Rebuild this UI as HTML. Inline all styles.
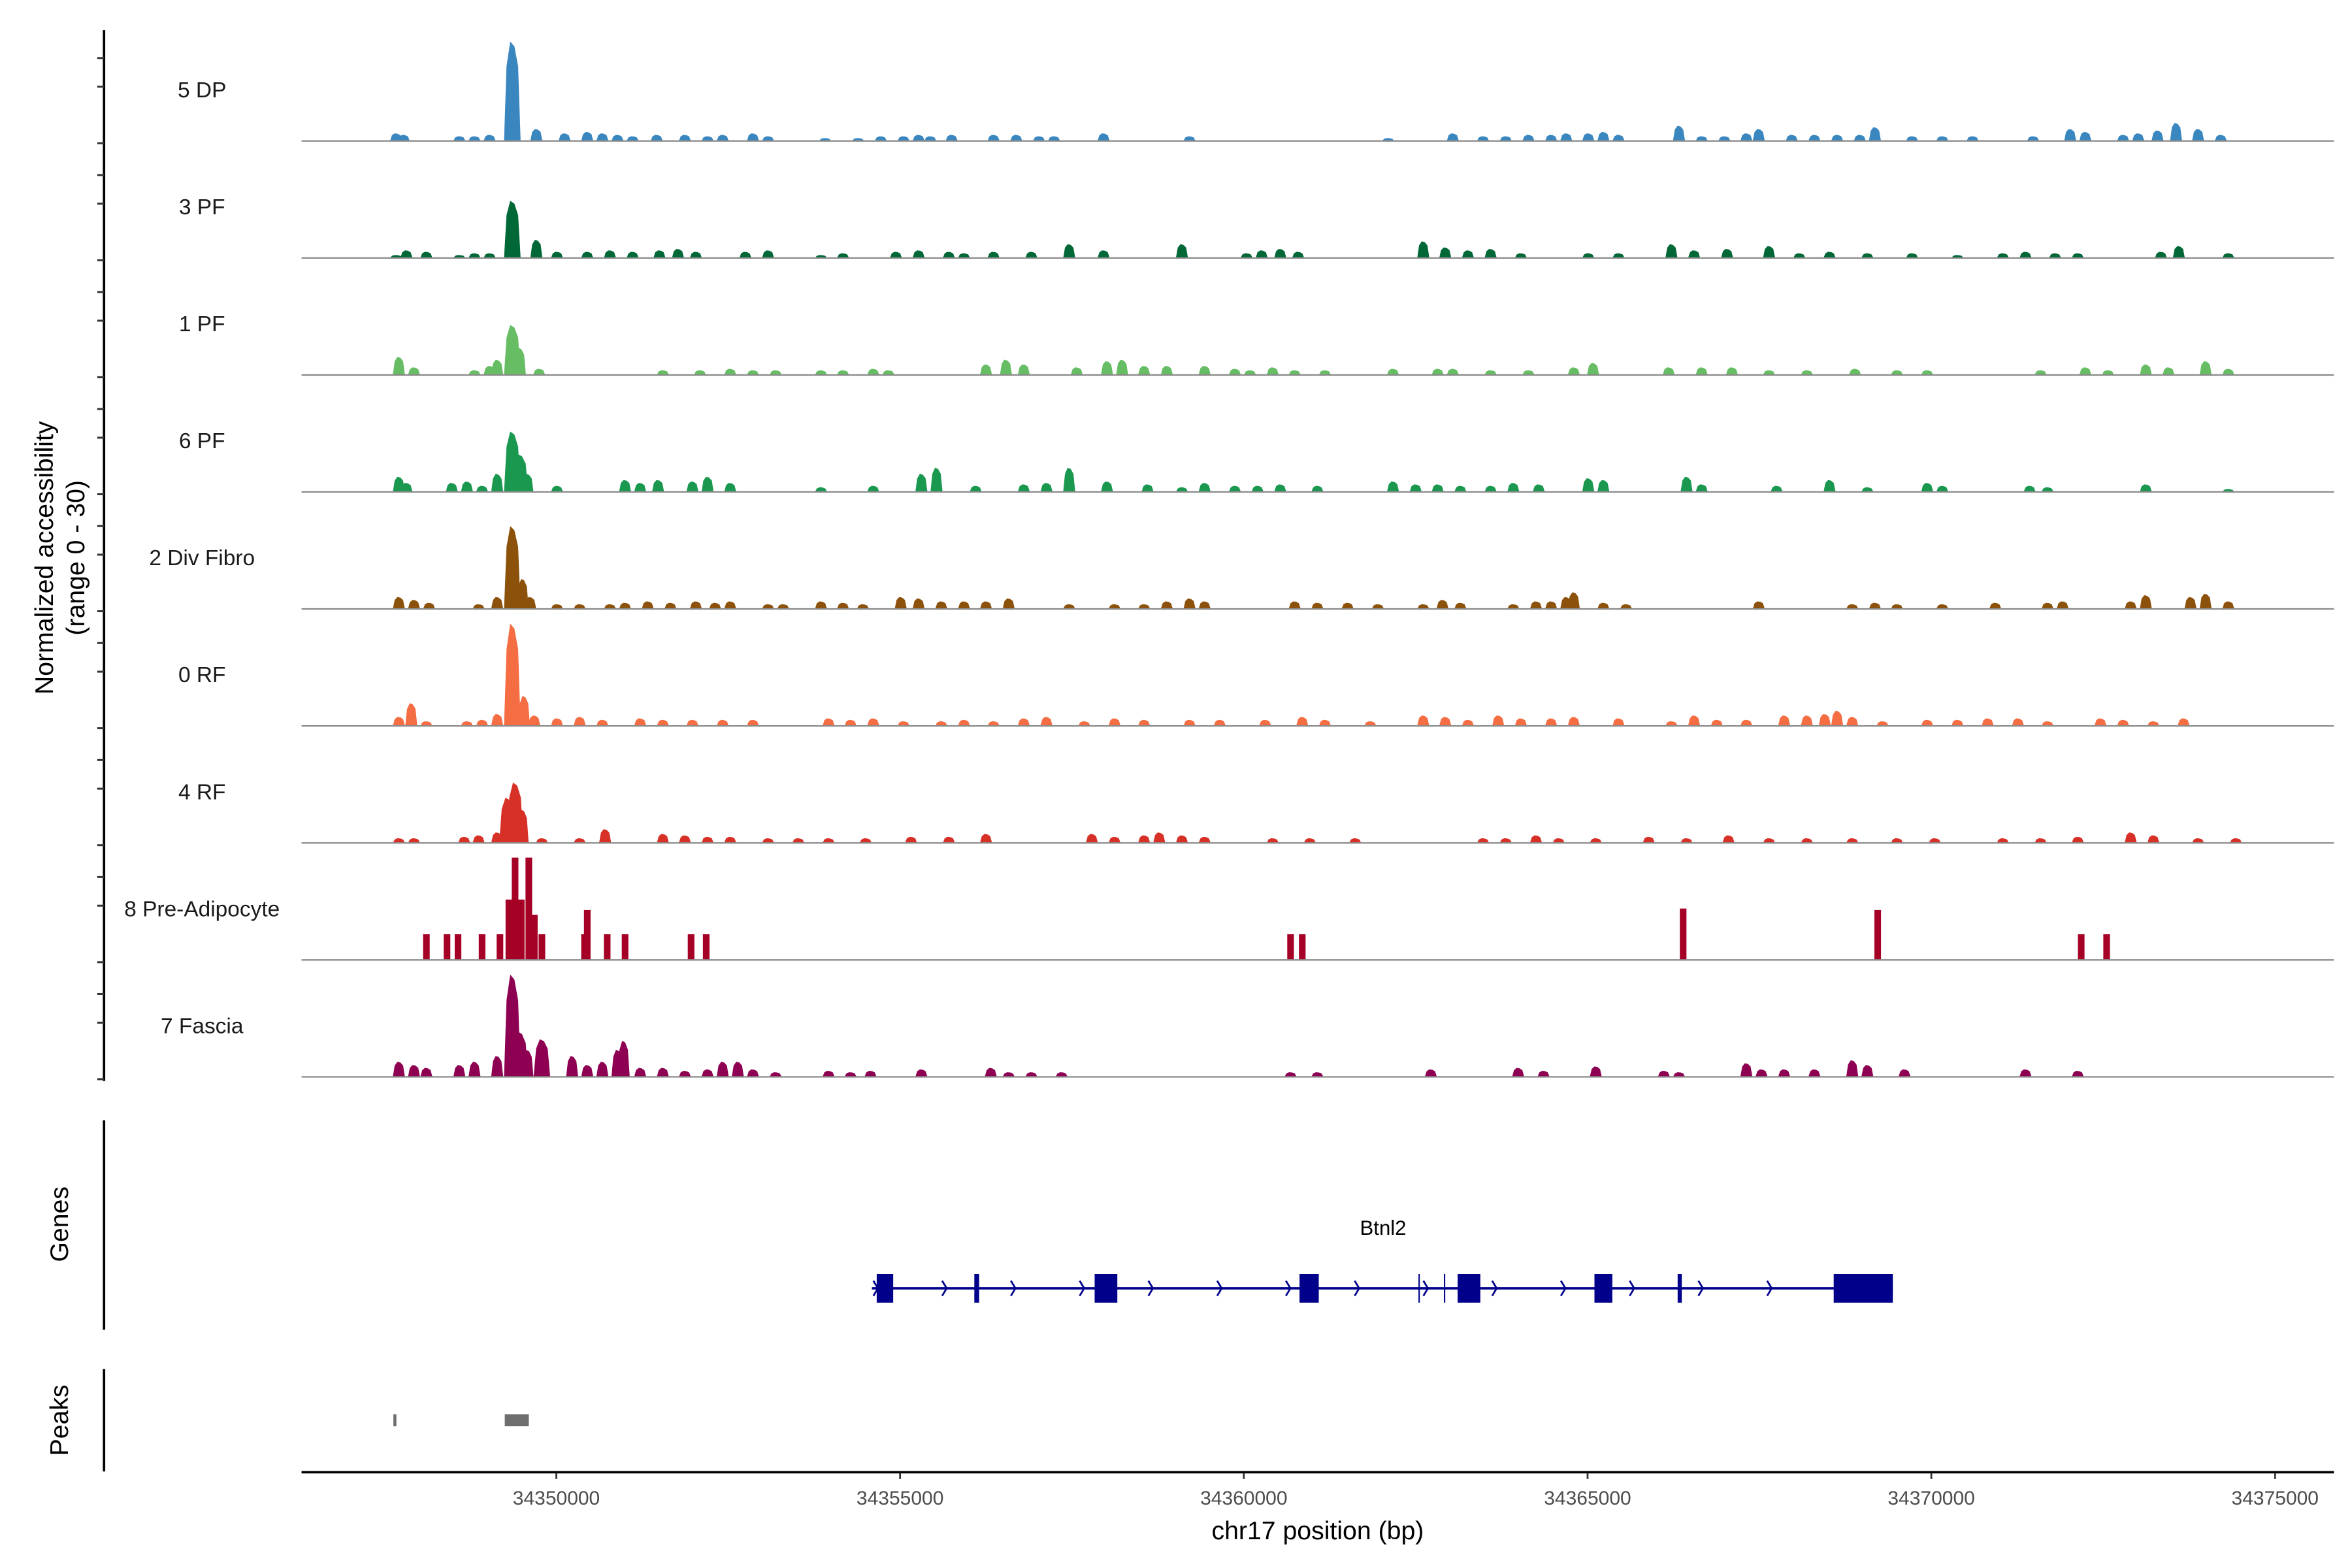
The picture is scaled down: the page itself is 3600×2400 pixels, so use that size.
<!DOCTYPE html>
<html><head><meta charset="utf-8"><style>
html,body{margin:0;padding:0;background:#fff;}
svg{display:block;font-family:"Liberation Sans",sans-serif;}
</style></head><body>
<svg id="chart" width="3600" height="2400" viewBox="0 0 1560 1040" xmlns="http://www.w3.org/2000/svg">
<rect x="0" y="0" width="1560" height="1040" fill="#fff"/>
<g id="tracks"></g>
<g id="genes"></g>
<g id="peaks"></g>
<g id="axes"></g>
<text transform="translate(35,370) rotate(-90)" text-anchor="middle" font-size="17">Normalized accessibility</text>
<text transform="translate(56,370) rotate(-90)" text-anchor="middle" font-size="17">(range 0 - 30)</text>
<text transform="translate(45,812) rotate(-90)" text-anchor="middle" font-size="17">Genes</text>
<text transform="translate(45,942) rotate(-90)" text-anchor="middle" font-size="17">Peaks</text>
<text x="874" y="1021" text-anchor="middle" font-size="17">chr17 position (bp)</text>
</svg>
<script>
// positions in kb offset from 34340000 bp; values normalized accessibility (0-30)
const trackNames = ["5 DP","3 PF","1 PF","6 PF","2 Div Fibro","0 RF","4 RF","8 Pre-Adipocyte","7 Fascia"];
const trackColors = ["#3a87c0","#006837","#66bd63","#1a9850","#8c510a","#f46d43","#d73027","#a50026","#8e0152"];
const pos5DP = [7.67,7.78,8.59,8.81,9.03,9.36,9.71,10.12,10.45,10.67,10.89,11.11,11.46,11.87,12.20,12.42,12.86,13.08,13.91,14.39,14.72,15.05,15.27,15.44,15.75,16.36,16.69,17.02,17.24,17.96,19.21,22.10,23.04,23.48,23.81,24.14,24.47,24.69,25.01,25.23,25.45,26.33,26.66,26.99,27.31,27.49,27.97,28.30,28.63,28.96,29.18,29.72,30.16,30.60,31.48,32.02,32.24,32.79,33.01,33.29,33.56,33.88,34.21];
const val5DP = [2.1,1.7,1.3,1.3,1.7,27.5,3.3,2.1,2.5,2.1,1.7,1.3,1.7,1.7,1.3,1.7,2.1,1.3,0.8,0.8,1.3,1.3,1.7,1.3,1.7,1.7,1.7,1.3,1.3,2.1,1.3,0.8,2.1,1.3,1.3,1.7,1.7,2.1,2.1,2.5,1.7,4.2,1.3,1.3,2.1,3.3,1.7,1.7,1.7,1.7,3.8,1.3,1.3,1.3,1.3,3.3,2.5,1.7,2.1,2.9,5,3.3,1.7];
const pos3PF = [7.67,7.82,8.11,8.59,8.81,9.03,9.36,9.71,10.01,10.45,10.78,11.11,11.50,11.77,12.03,12.75,13.08,13.85,14.17,14.94,15.27,15.71,15.93,16.36,16.91,17.46,17.96,19.10,20.04,20.26,20.53,20.79,22.61,22.93,23.26,23.59,24.03,25.01,25.45,26.22,26.55,27.03,27.64,28.08,28.52,29.07,29.72,30.38,31.04,31.37,31.80,32.13,33.34,33.60,34.32];
const val3PF = [0.8,2.1,1.7,0.8,1.3,1.3,15.8,5,1.7,1.7,2.1,1.7,2.1,2.5,1.7,1.7,2.1,0.8,1.3,1.7,2.1,1.7,1.3,1.7,1.7,3.8,2.1,3.8,1.3,2.1,2.5,1.7,4.6,2.9,2.1,2.5,1.3,1.3,1.3,3.8,2.1,2.5,3.3,1.3,1.7,1.3,1.3,0.8,1.3,1.7,1.3,1.3,1.7,3.3,1.3];
const pos1PF = [7.71,7.93,8.81,9.03,9.14,9.36,9.47,9.75,11.55,12.09,12.53,12.86,13.19,13.85,14.17,14.61,14.83,16.25,16.54,16.80,17.57,18.01,18.23,18.55,18.88,19.43,19.87,20.09,20.42,20.74,21.18,22.17,22.82,23.04,23.59,24.14,24.80,25.08,26.18,26.66,27.10,27.64,28.19,28.89,29.50,29.94,31.59,32.24,32.57,33.12,33.45,33.99,34.32];
const val1PF = [5,2.1,1.3,2.5,4.2,13.8,7.5,1.7,1.3,1.3,1.7,1.3,1.3,1.3,1.3,1.7,1.3,2.9,4.2,2.9,2.1,3.8,4.2,2.5,2.5,2.5,1.7,1.3,2.1,1.3,1.3,1.7,1.7,1.7,1.3,1.3,2.1,3.3,2.1,2.1,2.1,1.3,1.3,1.7,1.3,1.3,1.3,2.1,1.3,2.9,2.1,3.8,1.7];
const pos6PF = [7.71,7.82,8.48,8.70,8.92,9.14,9.36,9.47,9.58,10.01,11.00,11.22,11.48,11.98,12.20,12.53,13.85,14.61,15.31,15.53,16.10,16.80,17.13,17.46,18.01,18.60,19.10,19.43,19.87,20.20,20.53,21.07,22.17,22.50,22.82,23.15,23.59,23.92,24.29,25.01,25.23,26.44,26.66,27.75,28.52,29.07,29.94,30.16,31.43,31.69,33.12,34.32];
const val6PF = [4.2,2.5,2.5,2.9,1.7,5,16.7,10.4,5,1.7,3.3,2.5,3.3,2.9,4.2,2.5,1.3,1.7,5,6.7,1.7,2.1,2.5,6.7,2.9,2.1,1.3,2.5,1.7,1.7,2.1,1.7,2.9,2.1,2.1,1.7,1.7,2.5,2.1,3.8,3.3,4.2,2.1,1.7,3.3,1.3,2.5,1.7,1.7,1.3,2.1,0.8];
const posDiv = [7.71,7.93,8.15,8.87,9.14,9.36,9.51,9.62,10.01,10.34,10.78,11.00,11.33,11.66,12.03,12.31,12.53,13.08,13.30,13.85,14.17,14.46,15.01,15.27,15.60,15.93,16.25,16.58,17.46,18.12,18.55,18.88,19.21,19.43,20.74,21.07,21.51,21.95,22.61,22.89,23.15,23.92,24.25,24.47,24.69,24.80,25.23,25.56,27.49,28.85,29.18,29.50,30.16,30.93,31.69,31.91,32.90,33.12,33.77,33.99,34.32];
const valDiv = [3.3,2.5,1.7,1.3,3.3,22.9,8.3,3.3,1.3,1.3,1.3,1.7,2.1,1.7,2.1,1.7,2.1,1.3,1.3,2.1,1.7,1.3,3.3,2.9,2.1,2.1,2.1,2.9,1.3,1.3,1.3,2.1,2.9,2.1,2.1,1.7,1.7,1.3,1.3,2.5,1.7,1.3,2.1,2.1,3.3,4.6,1.7,1.3,2.1,1.3,1.7,1.3,1.3,1.7,1.7,2.1,2.1,3.8,3.3,4.2,2.1];
const pos0RF = [7.71,7.89,8.11,8.70,8.92,9.14,9.36,9.53,9.68,10.01,10.34,10.67,11.22,11.55,11.98,12.42,12.86,13.96,14.28,14.61,15.05,15.60,15.93,16.36,16.80,17.13,17.68,18.12,18.55,19.21,19.65,20.31,20.85,21.18,21.84,22.61,22.93,23.26,23.70,24.03,24.47,24.80,25.45,26.22,26.55,26.88,27.31,27.86,28.19,28.45,28.63,28.85,29.29,29.94,30.38,30.82,31.26,31.69,32.46,32.79,33.23,33.67];
const val0RF = [2.5,6.3,1.3,1.3,1.7,3.3,28.3,8.3,2.9,2.1,2.5,1.7,2.1,1.7,1.7,1.7,1.7,2.1,1.7,2.1,1.3,1.3,1.7,1.3,2.1,2.5,1.3,2.1,1.7,1.7,1.7,1.7,2.5,1.7,1.3,2.9,2.5,1.7,2.9,2.1,2.1,2.5,2.1,1.3,2.9,1.7,1.7,2.9,2.9,3.3,4.2,2.5,1.3,1.7,1.7,2.1,2.1,1.3,2.1,1.7,1.3,2.1];
const pos4RF = [7.71,7.93,8.66,8.87,9.14,9.29,9.40,9.51,9.79,10.34,10.71,11.55,11.87,12.20,12.53,13.08,13.52,13.96,14.50,15.16,15.71,16.25,17.79,18.12,18.55,18.77,19.10,19.43,20.42,20.96,21.62,23.48,23.81,24.25,24.58,25.12,25.89,26.44,27.05,27.64,28.19,28.85,29.50,30.05,31.04,31.59,32.13,32.90,33.23,33.88,34.43];
const val4RF = [1.3,1.3,1.7,2.1,2.9,12.5,16.7,9.2,1.3,1.3,3.8,2.5,2.1,1.7,1.7,1.3,1.3,1.3,1.3,1.7,1.7,2.5,2.5,1.7,2.1,2.9,2.1,1.7,1.3,1.3,1.3,1.3,1.3,2.1,1.3,1.3,1.7,1.3,2.1,1.3,1.3,1.3,1.3,1.3,1.3,1.3,1.7,2.9,2.1,1.3,1.3];
const posPre = [8.11,8.41,8.57,8.92,9.18,9.31,9.40,9.49,9.60,9.68,9.79,10.41,10.45,10.74,11.00,11.96,12.18,20.68,20.85,26.39,29.22,32.18,32.55];
const valPre = [7.1,7.1,7.1,7.1,7.1,16.7,28.3,16.7,28.3,12.5,7.1,7.1,13.8,7.1,7.1,7.1,7.1,7.1,7.1,14.2,13.8,7.1,7.1];
const posFas = [7.71,7.93,8.11,8.59,8.81,9.14,9.36,9.47,9.58,9.79,10.23,10.45,10.67,10.89,10.98,11.22,11.55,11.87,12.20,12.42,12.64,12.86,13.19,13.96,14.28,14.57,15.31,16.32,16.58,16.91,17.35,20.68,21.07,22.72,23.99,24.36,25.12,26.11,26.33,27.31,27.53,27.86,28.30,28.85,29.07,29.61,31.37,32.13];
const valFas = [4.2,3.3,2.5,3.3,4.2,5.8,28.3,12.5,7.5,10.4,5.8,3.3,4.2,7.5,10,2.5,2.5,1.7,2.1,4.2,4.2,2.1,1.3,1.7,1.3,1.7,2.1,2.5,1.3,1.3,1.3,1.3,1.3,2.1,2.5,1.7,2.9,1.7,1.3,3.8,2.1,2.1,2.1,4.6,3.3,2.1,2.1,1.7];
const trackPos = [pos5DP,pos3PF,pos1PF,pos6PF,posDiv,pos0RF,pos4RF,posPre,posFas];
const trackVal = [val5DP,val3PF,val1PF,val6PF,valDiv,val0RF,val4RF,valPre,valFas];
const xTicks = [34350000,34355000,34360000,34365000,34370000,34375000];
const xTickLabels = ["34350000","34355000","34360000","34365000","34370000","34375000"];
const geneName = "Btnl2";
const geneStartKb = 14.59, geneEndKb = 29.44;
const exonStarts = [14.66,16.08,17.83,20.81,22.54,22.91,23.11,25.10,26.31,28.58];
const exonEnds   = [14.90,16.15,18.16,21.09,22.56,22.93,23.44,25.36,26.37,29.44];
const peakStarts = [7.63,9.25];
const peakEnds   = [7.67,9.60];

const NS="http://www.w3.org/2000/svg";
const BASE=34340000;
const X0=200, X1=1548, DOM0=34346294, BPPX=21.93;
function xs(bp){return X0+(bp-DOM0)/BPPX;}
function xk(kb){return xs(BASE+kb*1000);}
const TRACK_H=72, YMAX=30, TOP_BASE=93.5, STEP=77.6;
function ys(v,base){return base - v/YMAX*TRACK_H;}
function mk(tag,attrs,parent){const e=document.createElementNS(NS,tag);for(const k in attrs)e.setAttribute(k,attrs[k]);parent.appendChild(e);return e;}

const tracksG=document.getElementById('tracks');
trackNames.forEach((nm,i)=>{
  const base=TOP_BASE+i*STEP;
  const g=mk('g',{},tracksG);
  
  
  const lab=mk('text',{x:134,y:base-29,'text-anchor':'middle','font-size':14.5,fill:'#1a1a1a'},g);
  lab.textContent=nm;
  
  
  const P=trackPos[i], V=trackVal[i], col=trackColors[i];
  const rect = (i===7);
  for(let j=0;j<P.length;j++){
    const cx=xk(P[j]); const top=ys(V[j],base);
    let d;
    if(rect){
      const w=2.2;
      d=`M${cx-w},${base} L${cx-w},${top} L${cx+w},${top} L${cx+w},${base} Z`;
    } else {
      const w = V[j]>10?5.5:4;
      const m=base-(base-top)*0.75;
      d=`M${cx-w},${base} L${cx-w*0.7},${m} L${cx-w*0.25},${top} L${cx+w*0.25},${top+ (base-top)*0.05} L${cx+w*0.7},${m} L${cx+w},${base} Z`;
    }
    const p=mk('path',{d:d,fill:col},g);
    
    
  }
  const bl=mk('line',{x1:X0,x2:X1,y1:base,y2:base,stroke:'#8c8c8c','stroke-width':1},g);
  
  
});

// gene track
const gG=document.getElementById('genes');
const GY=854.5;
const gl=mk('line',{x1:xk(geneStartKb),x2:xk(geneEndKb),y1:GY,y2:GY,stroke:'#00008b','stroke-width':1.6},gG);


for(let kb=geneStartKb; kb<geneEndKb-0.5; kb+=1.0){
  const ax=xk(kb)+1;
  const a=mk('path',{d:`M${ax},${GY-5} L${ax+3},${GY} L${ax},${GY+5}`,fill:'none',stroke:'#00008b','stroke-width':1.2},gG);
  
  
}
for(let k=0;k<exonStarts.length;k++){
  const x1=xk(exonStarts[k]), x2=xk(exonEnds[k]);
  const thin=(x2-x1)<1.5;
  const r=mk('rect',{x:x1,y:thin?845:845,width:Math.max(x2-x1,thin?0.7:1),height:19,fill:'#00008b'},gG);
  
  
}
const gt=mk('text',{x:(xk(geneStartKb)+xk(geneEndKb))/2+0.5,y:819,'text-anchor':'middle','font-size':13.5,fill:'#000'},gG);
gt.textContent=geneName;



// peaks track
const pG=document.getElementById('peaks');
for(let k=0;k<peakStarts.length;k++){
  const x1=xk(peakStarts[k]), x2=xk(peakEnds[k]);
  const r=mk('rect',{x:x1,y:938,width:Math.max(x2-x1,2),height:8,fill:'#6e6e6e'},pG);
  
  
}

// axes
const aG=document.getElementById('axes');
const ya=mk('line',{x1:69,x2:69,y1:20,y2:717,stroke:'#000','stroke-width':1.6},aG);


for(let i=0;i<trackNames.length;i++){
  const base=TOP_BASE+i*STEP;
  [base+1.5, base-36, base-55].forEach(ty=>{
    const t=mk('line',{x1:64.5,x2:69,y1:ty,y2:ty,stroke:'#333','stroke-width':1.3},aG);
    
    
  });
}
const ga=mk('line',{x1:69,x2:69,y1:743,y2:882,stroke:'#000','stroke-width':1.6},aG);


const pa=mk('line',{x1:69,x2:69,y1:908,y2:976,stroke:'#000','stroke-width':1.6},aG);


const xa=mk('line',{x1:X0,x2:X1,y1:976.5,y2:976.5,stroke:'#000','stroke-width':1.6},aG);


xTicks.forEach((v,i)=>{
  const x=xs(v);
  const t=mk('line',{x1:x,x2:x,y1:977,y2:981,stroke:'#333','stroke-width':1.2},aG);
  
  
  const l=mk('text',{x:x,y:998,'text-anchor':'middle','font-size':13,fill:'#4d4d4d'},aG);
  l.textContent=xTickLabels[i];
  
  
});
</script>
</body></html>
